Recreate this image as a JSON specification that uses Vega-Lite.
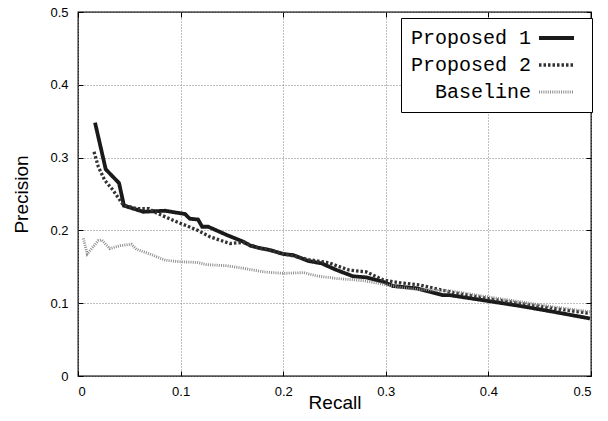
{
  "$schema": "https://vega.github.io/schema/vega-lite/v6.json",
  "width": 513,
  "height": 364,
  "autosize": {"type": "none"},
  "padding": {"left": 78, "top": 12, "right": 17, "bottom": 45},
  "background": "white",
  "config": {
    "view": {"stroke": "black", "strokeWidth": 1.3},
    "axis": {
      "domain": false,
      "ticks": true,
      "tickSize": -5,
      "tickColor": "black",
      "tickWidth": 1,
      "labelFont": "Liberation Sans",
      "labelFontSize": 13,
      "labelColor": "black",
      "titleFont": "Liberation Sans",
      "titleFontSize": 19,
      "titleFontWeight": "normal",
      "titleColor": "black"
    }
  },
  "data": {
    "values": [
      {"s": "Proposed 1", "x": 0.0166, "y": 0.348},
      {"s": "Proposed 1", "x": 0.027, "y": 0.284},
      {"s": "Proposed 1", "x": 0.040, "y": 0.265},
      {"s": "Proposed 1", "x": 0.0448, "y": 0.234},
      {"s": "Proposed 1", "x": 0.0636, "y": 0.2256},
      {"s": "Proposed 1", "x": 0.0848, "y": 0.227},
      {"s": "Proposed 1", "x": 0.1043, "y": 0.2225},
      {"s": "Proposed 1", "x": 0.109, "y": 0.216},
      {"s": "Proposed 1", "x": 0.117, "y": 0.215},
      {"s": "Proposed 1", "x": 0.121, "y": 0.205},
      {"s": "Proposed 1", "x": 0.127, "y": 0.205},
      {"s": "Proposed 1", "x": 0.145, "y": 0.1937},
      {"s": "Proposed 1", "x": 0.161, "y": 0.1845},
      {"s": "Proposed 1", "x": 0.168, "y": 0.179},
      {"s": "Proposed 1", "x": 0.176, "y": 0.176},
      {"s": "Proposed 1", "x": 0.187, "y": 0.173},
      {"s": "Proposed 1", "x": 0.200, "y": 0.1676},
      {"s": "Proposed 1", "x": 0.210, "y": 0.166},
      {"s": "Proposed 1", "x": 0.2245, "y": 0.158},
      {"s": "Proposed 1", "x": 0.2375, "y": 0.1547},
      {"s": "Proposed 1", "x": 0.252, "y": 0.1456},
      {"s": "Proposed 1", "x": 0.268, "y": 0.137},
      {"s": "Proposed 1", "x": 0.281, "y": 0.1355},
      {"s": "Proposed 1", "x": 0.2976, "y": 0.1295},
      {"s": "Proposed 1", "x": 0.307, "y": 0.1236},
      {"s": "Proposed 1", "x": 0.330, "y": 0.1204},
      {"s": "Proposed 1", "x": 0.343, "y": 0.1157},
      {"s": "Proposed 1", "x": 0.356, "y": 0.111},
      {"s": "Proposed 1", "x": 0.3626, "y": 0.111},
      {"s": "Proposed 1", "x": 0.372, "y": 0.109},
      {"s": "Proposed 1", "x": 0.398, "y": 0.1034},
      {"s": "Proposed 1", "x": 0.431, "y": 0.0962},
      {"s": "Proposed 1", "x": 0.463, "y": 0.0883},
      {"s": "Proposed 1", "x": 0.499, "y": 0.079},
      {"s": "Proposed 2", "x": 0.0156, "y": 0.308},
      {"s": "Proposed 2", "x": 0.0198, "y": 0.2875},
      {"s": "Proposed 2", "x": 0.026, "y": 0.269},
      {"s": "Proposed 2", "x": 0.034, "y": 0.2555},
      {"s": "Proposed 2", "x": 0.044, "y": 0.235},
      {"s": "Proposed 2", "x": 0.057, "y": 0.230},
      {"s": "Proposed 2", "x": 0.069, "y": 0.230},
      {"s": "Proposed 2", "x": 0.077, "y": 0.2235},
      {"s": "Proposed 2", "x": 0.096, "y": 0.212},
      {"s": "Proposed 2", "x": 0.116, "y": 0.2005},
      {"s": "Proposed 2", "x": 0.129, "y": 0.191},
      {"s": "Proposed 2", "x": 0.148, "y": 0.182},
      {"s": "Proposed 2", "x": 0.161, "y": 0.1835},
      {"s": "Proposed 2", "x": 0.176, "y": 0.176},
      {"s": "Proposed 2", "x": 0.187, "y": 0.173},
      {"s": "Proposed 2", "x": 0.200, "y": 0.168},
      {"s": "Proposed 2", "x": 0.2245, "y": 0.160},
      {"s": "Proposed 2", "x": 0.244, "y": 0.1557},
      {"s": "Proposed 2", "x": 0.264, "y": 0.1456},
      {"s": "Proposed 2", "x": 0.281, "y": 0.143},
      {"s": "Proposed 2", "x": 0.2976, "y": 0.1319},
      {"s": "Proposed 2", "x": 0.314, "y": 0.128},
      {"s": "Proposed 2", "x": 0.333, "y": 0.125},
      {"s": "Proposed 2", "x": 0.343, "y": 0.1218},
      {"s": "Proposed 2", "x": 0.366, "y": 0.1144},
      {"s": "Proposed 2", "x": 0.398, "y": 0.1067},
      {"s": "Proposed 2", "x": 0.431, "y": 0.0997},
      {"s": "Proposed 2", "x": 0.463, "y": 0.093},
      {"s": "Proposed 2", "x": 0.499, "y": 0.086},
      {"s": "Baseline", "x": 0.0052, "y": 0.189},
      {"s": "Baseline", "x": 0.009, "y": 0.1676},
      {"s": "Baseline", "x": 0.0198, "y": 0.186},
      {"s": "Baseline", "x": 0.023, "y": 0.187},
      {"s": "Baseline", "x": 0.031, "y": 0.175},
      {"s": "Baseline", "x": 0.041, "y": 0.179},
      {"s": "Baseline", "x": 0.052, "y": 0.181},
      {"s": "Baseline", "x": 0.057, "y": 0.174},
      {"s": "Baseline", "x": 0.070, "y": 0.1676},
      {"s": "Baseline", "x": 0.085, "y": 0.159},
      {"s": "Baseline", "x": 0.099, "y": 0.157},
      {"s": "Baseline", "x": 0.116, "y": 0.156},
      {"s": "Baseline", "x": 0.125, "y": 0.153},
      {"s": "Baseline", "x": 0.145, "y": 0.1515},
      {"s": "Baseline", "x": 0.161, "y": 0.148},
      {"s": "Baseline", "x": 0.181, "y": 0.143},
      {"s": "Baseline", "x": 0.200, "y": 0.141},
      {"s": "Baseline", "x": 0.220, "y": 0.142},
      {"s": "Baseline", "x": 0.233, "y": 0.1374},
      {"s": "Baseline", "x": 0.252, "y": 0.134},
      {"s": "Baseline", "x": 0.278, "y": 0.131},
      {"s": "Baseline", "x": 0.2976, "y": 0.126},
      {"s": "Baseline", "x": 0.314, "y": 0.1218},
      {"s": "Baseline", "x": 0.330, "y": 0.119},
      {"s": "Baseline", "x": 0.3626, "y": 0.117},
      {"s": "Baseline", "x": 0.398, "y": 0.109},
      {"s": "Baseline", "x": 0.431, "y": 0.102},
      {"s": "Baseline", "x": 0.463, "y": 0.095},
      {"s": "Baseline", "x": 0.499, "y": 0.0883}
    ]
  },
  "layer": [
    {
      "mark": {"type": "line", "opacity": 0},
      "encoding": {
        "x": {
          "field": "x", "type": "quantitative",
          "scale": {"domain": [0, 0.5], "nice": false},
          "axis": {"orient": "top", "values": [0, 0.1, 0.2, 0.3, 0.4, 0.5], "labels": false, "grid": false, "title": null}
        },
        "y": {
          "field": "y", "type": "quantitative",
          "scale": {"domain": [0, 0.5], "nice": false},
          "axis": {"orient": "right", "values": [0, 0.1, 0.2, 0.3, 0.4, 0.5], "labels": false, "grid": false, "title": null}
        }
      }
    },
    {
      "mark": {"type": "line", "clip": true, "strokeCap": "butt", "strokeJoin": "miter"},
      "encoding": {
        "x": {
          "field": "x", "type": "quantitative", "title": "Recall",
          "scale": {"domain": [0, 0.5], "nice": false},
          "axis": {"orient": "bottom", "values": [0, 0.1, 0.2, 0.3, 0.4, 0.5], "format": "~g", "labelPadding": 14, "titlePadding": -5,
                   "grid": true, "gridColor": "#808080", "gridDash": [1, 2], "gridWidth": 1}
        },
        "y": {
          "field": "y", "type": "quantitative", "title": "Precision",
          "scale": {"domain": [0, 0.5], "nice": false},
          "axis": {"orient": "left", "values": [0, 0.1, 0.2, 0.3, 0.4, 0.5], "format": "~g", "labelPadding": 15, "titlePadding": 18,
                   "grid": true, "gridColor": "#808080", "gridDash": [1, 2], "gridWidth": 1}
        },
        "order": {"field": "x", "type": "quantitative"},
        "color": {
          "field": "s", "type": "nominal",
          "scale": {"domain": ["Proposed 1", "Proposed 2", "Baseline"], "range": ["#1a1a1a", "#333333", "#8c8c8c"]},
          "legend": {
            "title": null,
            "orient": "none",
            "legendX": 323,
            "legendY": 6,
            "labelFont": "Liberation Mono",
            "labelFontSize": 20,
            "labelColor": "black",
            "labelAlign": "right",
            "labelOffset": 100,
            "symbolType": "M 23.6 0 L 30.6 0",
            "symbolSize": 100,
            "symbolOffset": 0,
            "rowPadding": 7,
            "padding": 10,
            "strokeColor": "black",
            "fillColor": "white"
          }
        },
        "strokeDash": {
          "field": "s", "type": "nominal",
          "scale": {"domain": ["Proposed 1", "Proposed 2", "Baseline"], "range": [[1, 0], [2.5, 2], [1, 1.2]]},
          "legend": null
        },
        "strokeWidth": {
          "field": "s", "type": "nominal",
          "scale": {"domain": ["Proposed 1", "Proposed 2", "Baseline"], "range": [3.8, 2.8, 1]},
          "legend": null
        }
      }
    }
  ],
  "resolve": {"axis": {"x": "independent", "y": "independent"}}
}
